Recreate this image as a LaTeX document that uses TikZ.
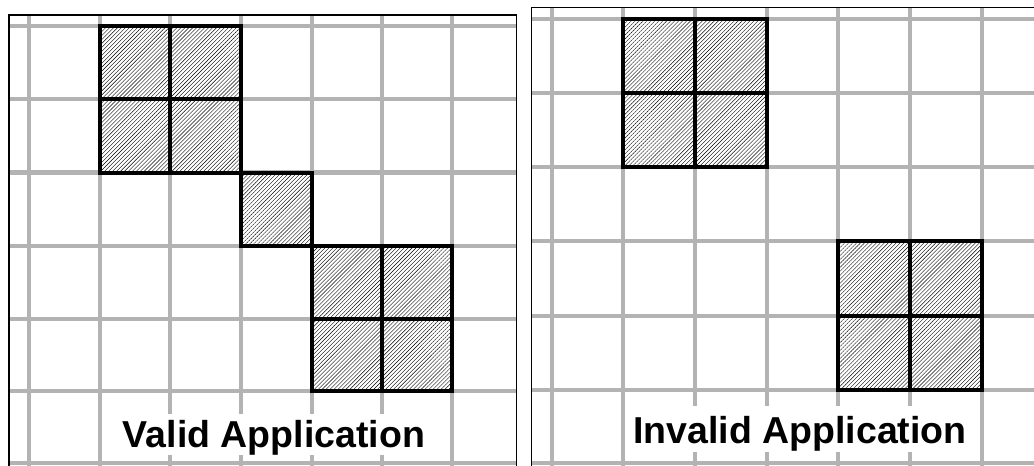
\documentclass[tikz,border=0pt]{standalone}
\usepackage{fontspec}
\setmainfont{Liberation Sans}
\usetikzlibrary{patterns.meta}
\definecolor{gridgray}{RGB}{179,179,179}
\tikzset{
  gridline/.style={draw=gridgray, line width=4.3pt},
  frame/.style={draw=black, line width=1.1pt},
  cell/.style={fill=white, postaction={pattern={Lines[angle=45,distance=2.8pt,line width=0.4pt]}},
               postaction={draw=black, line width=4pt}},
  lbl/.style={fill=white, font=\bfseries\fontsize{37.5}{40}\selectfont, inner xsep=4pt, inner ysep=0pt, anchor=base},
}
\begin{document}
\begin{tikzpicture}[x=1pt,y=1pt]
\useasboundingbox (0,0) rectangle (1034,-466);
\clip (0,0) rectangle (1034,-466);
% ---------- left panel ----------
\foreach \y in {26,99,172.5,246,319,391,463}
  \draw[gridline] (9,-\y) -- (516.5,-\y);
\foreach \x in {29,100,170,241,312,382,452}
  \draw[gridline] (\x,-15) -- (\x,-470);
\node[lbl, text height=33pt, text depth=8pt] (validlbl) at (274,-447) {Valid Application};
\foreach \a/\b/\c/\d in {100/26/170/99, 170/26/241/99, 100/99/170/172.5, 170/99/241/172.5,
                         241/172.5/312/246,
                         312/246/382/319, 382/246/452/319, 312/319/382/391, 382/319/452/391}
  \path[cell] (\a,-\b) rectangle (\c,-\d);
\draw[frame] (9,-480) -- (9,-15) -- (516.5,-15) -- (516.5,-480);
% ---------- right panel ----------
\foreach \y in {19,93,167,241,316,390,463}
  \draw[gridline] (531.5,-\y) -- (1040,-\y);
\foreach \x in {552,623,695,767,838,910,982}
  \draw[gridline] (\x,-7.3) -- (\x,-470);
\node[lbl, text height=37pt, text depth=9pt] (invalidlbl) at (800,-443) {Invalid Application};
\foreach \a/\b/\c/\d in {623/19/695/93, 695/19/767/93, 623/93/695/167, 695/93/767/167,
                         838/241/910/316, 910/241/982/316, 838/316/910/390, 910/316/982/390}
  \path[cell] (\a,-\b) rectangle (\c,-\d);
\draw[frame] (531.5,-480) -- (531.5,-7.3) -- (1040,-7.3);
\end{tikzpicture}
\end{document}
